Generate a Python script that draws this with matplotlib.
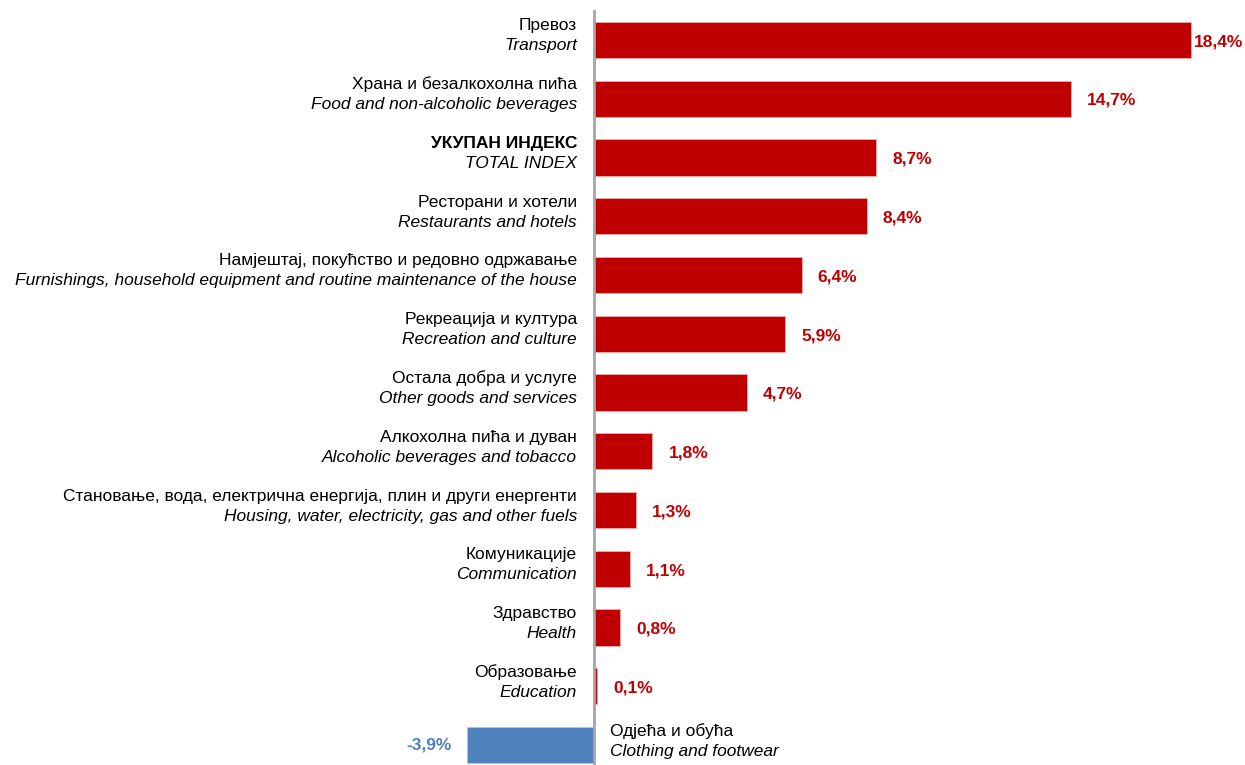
import matplotlib
matplotlib.use("Agg")
import matplotlib.pyplot as plt

plt.rcParams['font.family'] = ['Liberation Sans', 'DejaVu Sans']

cats_sr = ['Превоз', 'Храна и безалкохолна пића', 'УКУПАН ИНДЕКС', 'Ресторани и хотели',
           'Намјештај, покућство и редовно одржавање', 'Рекреација и култура',
           'Остала добра и услуге', 'Алкохолна пића и дуван',
           'Становање, вода, електрична енергија, плин и други енергенти',
           'Комуникације', 'Здравство', 'Образовање', 'Одјећа и обућа']
cats_en = ['Transport', 'Food and non-alcoholic beverages', 'TOTAL INDEX', 'Restaurants and hotels',
           'Furnishings, household equipment and routine maintenance of the house',
           'Recreation and culture', 'Other goods and services', 'Alcoholic beverages and tobacco',
           'Housing, water, electricity, gas and other fuels', 'Communication', 'Health',
           'Education', 'Clothing and footwear']
values = [18.4, 14.7, 8.7, 8.4, 6.4, 5.9, 4.7, 1.8, 1.3, 1.1, 0.8, 0.1, -3.9]
value_labels = [f"{v:.1f}%".replace('.', ',') for v in values]

RED = '#C00000'
BLUE = '#4F81BD'
FS = 12.5

fig = plt.figure(figsize=(12.45, 7.65), dpi=100)
ax = fig.add_axes([0, 0, 1, 755 / 765])
pxu = 32.45      # pixels per x unit
pyu = 58.75      # pixels per category row
ax.set_xlim(-594 / pxu, 651 / pxu)
ax.set_ylim(12.34, -0.51)
ax.axis('off')

ys = list(range(len(values)))
colors = [RED if v >= 0 else BLUE for v in values]
ax.barh(ys, values, height=0.62, color=colors, edgecolor='#F0B0B0', linewidth=0.6, zorder=2)
ax.axvline(0, color='#A6A6A6', linewidth=2, zorder=3)

xmax = ax.get_xlim()[1]
top_off = -9.5 / pyu
bot_off = 10.5 / pyu
for y, v, lab, sr, en in zip(ys, values, value_labels, cats_sr, cats_en):
    bold_sr = 'bold' if en == 'TOTAL INDEX' else 'normal'
    if v >= 0:
        off = 16 / pxu
        if v + off + 52 / pxu > xmax:
            off = 3 / pxu
        ax.text(v + off, y + 0.03, lab, color=RED, fontsize=FS, fontweight='bold',
                ha='left', va='center')
        lx = -17 / pxu
        ha = 'right'
    else:
        ax.text(v - 16 / pxu, y + 0.0, lab, color=BLUE, fontsize=FS, fontweight='bold',
                ha='right', va='center')
        lx = 16 / pxu
        ha = 'left'
    ax.text(lx, y + top_off, sr, ha=ha, va='baseline', fontsize=FS, fontweight=bold_sr,
            color='black')
    ax.text(lx, y + bot_off, en, ha=ha, va='baseline', fontsize=FS, fontstyle='italic',
            color='black')

fig.savefig('out.png', dpi=100)
